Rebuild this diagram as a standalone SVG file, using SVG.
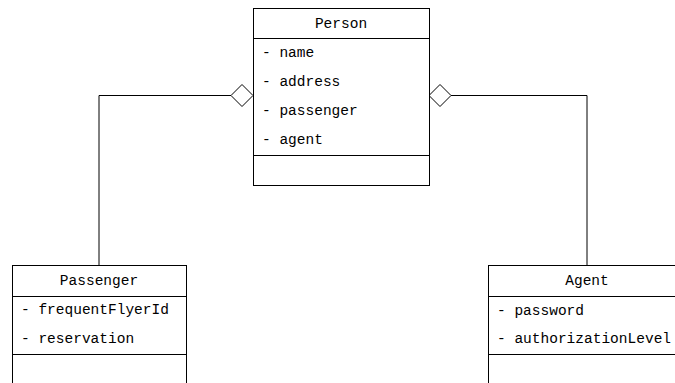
<svg xmlns="http://www.w3.org/2000/svg" width="675" height="383" viewBox="0 0 675 383">
<style>
.box{fill:#fff;stroke:#000;stroke-width:1}
.sep{stroke:#000;stroke-width:1}
.t{font-family:"Liberation Mono","DejaVu Sans Mono",monospace;font-size:14.5px;fill:#000}
.c{text-anchor:middle}
.edge{fill:none;stroke:#000;stroke-width:1}
.dia{fill:#fff;stroke:#000;stroke-width:1}
</style>
<rect width="675" height="383" fill="#fff"/>
<g id="connectors">
<path class="edge" d="M99,265 V95.5 H231"/>
<polygon class="dia" points="231,95.5 242,84.5 253,95.5 242,106.5"/>
<path class="edge" d="M587,265 V95.5 H451"/>
<polygon class="dia" points="429,95.5 440,84.5 451,95.5 440,106.5"/>
</g>
<g id="person">
<rect class="box" x="253.5" y="8.5" width="176" height="177"/>
<line class="sep" x1="253.5" y1="38.5" x2="429.5" y2="38.5"/>
<line class="sep" x1="253.5" y1="155.5" x2="429.5" y2="155.5"/>
<text class="t c" x="341" y="28">Person</text>
<text class="t" x="262" y="57">- name</text>
<text class="t" x="262" y="86">- address</text>
<text class="t" x="262" y="115">- passenger</text>
<text class="t" x="262" y="144">- agent</text>
</g>
<g id="passenger">
<rect class="box" x="12.5" y="265.5" width="174" height="130"/>
<line class="sep" x1="12.5" y1="296.5" x2="186.5" y2="296.5"/>
<line class="sep" x1="12.5" y1="354.5" x2="186.5" y2="354.5"/>
<text class="t c" x="99" y="285">Passenger</text>
<text class="t" x="21" y="314">- frequentFlyerId</text>
<text class="t" x="21" y="343">- reservation</text>
</g>
<g id="agent">
<rect class="box" x="488.5" y="265.5" width="200" height="130"/>
<line class="sep" x1="488.5" y1="296.5" x2="688.5" y2="296.5"/>
<line class="sep" x1="488.5" y1="354.5" x2="688.5" y2="354.5"/>
<text class="t c" x="587" y="285">Agent</text>
<text class="t" x="497" y="315">- password</text>
<text class="t" x="497" y="343">- authorizationLevel</text>
</g>
</svg>
